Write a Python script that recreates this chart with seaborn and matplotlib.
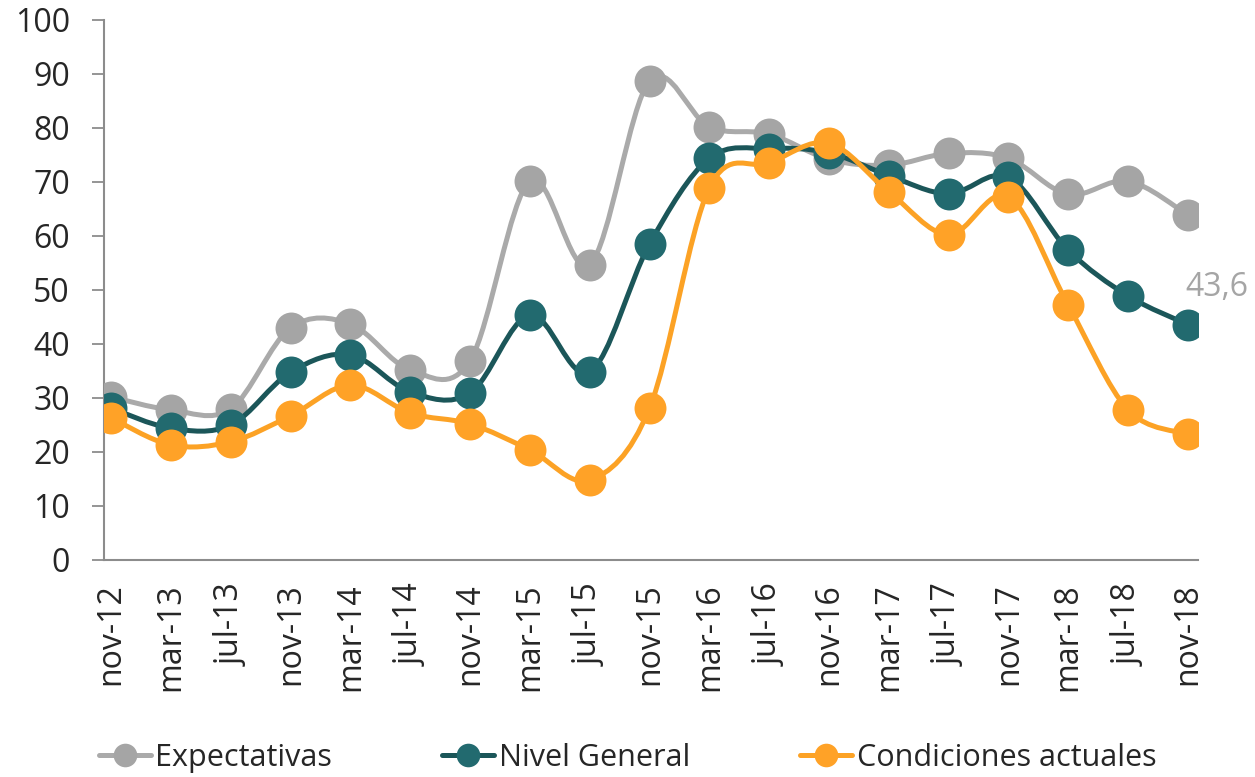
import numpy as np
import pandas as pd
import matplotlib
matplotlib.use("Agg")
import matplotlib.pyplot as plt
from matplotlib.path import Path
from matplotlib.patches import PathPatch
from matplotlib.lines import Line2D
import seaborn as sns

# ---- data ----
periods = ["nov-12", "mar-13", "jul-13", "nov-13", "mar-14", "jul-14", "nov-14",
           "mar-15", "jul-15", "nov-15", "mar-16", "jul-16", "nov-16", "mar-17",
           "jul-17", "nov-17", "mar-18", "jul-18", "nov-18"]
expectativas = [30.2, 27.8, 28.0, 43.0, 43.7, 35.2, 36.9, 70.2, 54.7, 88.7,
                80.2, 78.9, 74.2, 73.1, 75.3, 74.4, 67.7, 70.2, 63.9]
nivel_general = [28.1, 24.4, 25.0, 34.8, 38.0, 31.1, 30.9, 45.4, 34.8, 58.5,
                 74.4, 76.2, 75.4, 71.2, 67.8, 70.9, 57.4, 48.9, 43.6]
condiciones = [26.3, 21.3, 21.9, 26.7, 32.4, 27.2, 25.2, 20.4, 14.8, 28.1,
               68.9, 73.5, 77.2, 68.2, 60.2, 67.3, 47.2, 27.8, 23.3]
series_names = ["Expectativas", "Nivel General", "Condiciones actuales"]
series_values = [expectativas, nivel_general, condiciones]
marker_colors = ["#A5A5A5", "#226A6F", "#FFA227"]
line_colors = ["#AAAAAA", "#1B5659", "#FCA225"]
last_label = "43,6"

sns.set_theme(style="white")
plt.rcParams["font.family"] = ["Open Sans", "DejaVu Sans"]

fig = plt.figure(figsize=(12.55, 7.77), dpi=100)
ax = fig.add_axes([104 / 1255, 1 - 560 / 777, (1198 - 104) / 1255, (560 - 20) / 777])

rows = []
for name, vals in zip(series_names, series_values):
    for i, (p, v) in enumerate(zip(periods, vals)):
        rows.append({"serie": name, "idx": i, "periodo": p, "valor": v})
df = pd.DataFrame(rows)


def smooth_path(x, y):
    pts = np.column_stack([x, y]).astype(float)
    n = len(pts)
    verts = [pts[0]]
    codes = [Path.MOVETO]
    for i in range(n - 1):
        p0 = pts[i - 1] if i > 0 else pts[i]
        p1 = pts[i]
        p2 = pts[i + 1]
        p3 = pts[i + 2] if i + 2 < n else pts[i + 1]
        c1 = p1 + (p2 - p0) / 6.0
        c2 = p2 - (p3 - p1) / 6.0
        verts += [c1, c2, p2]
        codes += [Path.CURVE4] * 3
    return Path(verts, codes)


for k, name in enumerate(series_names):
    sub = df[df["serie"] == name]
    path = smooth_path(sub["idx"].values, sub["valor"].values)
    ax.add_patch(PathPatch(path, facecolor="none", edgecolor=line_colors[k],
                           lw=3.6, zorder=2 + 2 * k, capstyle="round",
                           joinstyle="round"))
    sns.scatterplot(data=sub, x="idx", y="valor", color=marker_colors[k],
                    s=23 ** 2, linewidth=0, ax=ax, zorder=3 + 2 * k,
                    legend=False)

# label for the last Nivel General value
ng = df[df["serie"] == "Nivel General"]
ax.annotate(last_label, xy=(ng["idx"].iloc[-1], ng["valor"].iloc[-1]),
            xytext=(-2, 27), textcoords="offset points", color="#A5A5A5",
            fontsize=23, ha="left", va="center", annotation_clip=False)

ax.set_xlim(-0.12, 18.17)
ax.set_ylim(0, 100)
ax.set_yticks(np.arange(0, 101, 10))
ax.set_xticks(range(len(periods)))
ax.set_xticklabels(periods, rotation=90, fontsize=23)
ax.tick_params(axis="y", labelsize=23, length=8.6, width=1.3, color="#8C8C8C",
               pad=16, direction="out", left=True)
ax.tick_params(axis="x", length=0, pad=17)
ax.set_xlabel("")
ax.set_ylabel("")
for s in ["top", "right"]:
    ax.spines[s].set_visible(False)
for s in ["left", "bottom"]:
    ax.spines[s].set_color("#8C8C8C")
    ax.spines[s].set_linewidth(1.5)
ax.grid(False)

handles = [Line2D([0], [0], color=line_colors[k], lw=3.6, marker="o",
                  markersize=17, markerfacecolor=marker_colors[k],
                  markeredgewidth=0) for k in range(3)]
fig.legend(handles, series_names, loc="center", ncol=3,
           bbox_to_anchor=(0.5, 1 - 758 / 777), frameon=False, fontsize=22,
           handlelength=1.7, handletextpad=0.15, columnspacing=3.6)

fig.savefig("out.png", dpi=100)
